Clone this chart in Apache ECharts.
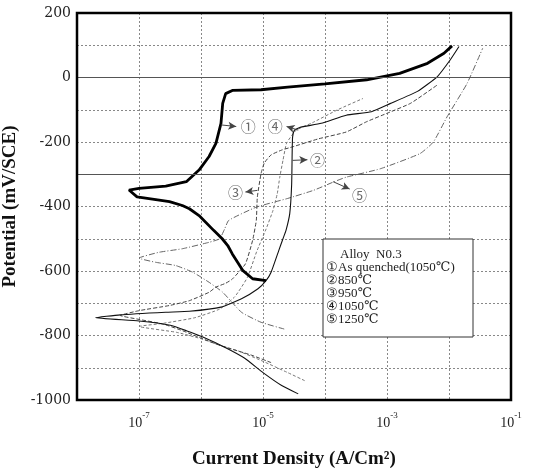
<!DOCTYPE html>
<html>
<head>
<meta charset="utf-8">
<script src="https://cdn.jsdelivr.net/npm/echarts@6/dist/echarts.min.js"></script>
<style>html,body{margin:0;padding:0;background:#fff}#c{width:534px;height:475px}</style>
</head>
<body>
<div id="c"></div>
<script>
// ---- data (current density A/cm², potential mV/SCE) ----
// ① As quenched (1050℃)
const c1I = [1.12e-5,6.8e-6,4.7e-6,3.2e-6,2.7e-6,2.2e-6,1.6e-6,9.3e-7,6.5e-7,5.0e-7,3.1e-7,9.3e-8,6.9e-8,1.0e-7,2.7e-7,5.8e-7,9.3e-7,1.35e-6,1.74e-6,2.1e-6,2.24e-6,2.5e-6,3.2e-6,9.3e-6,2.5e-5,1.0e-4,4.7e-4,1.6e-3,4.5e-3,8.3e-3,1.12e-2];
const c1E = [-630,-624,-598,-547,-521,-500,-474,-428,-407,-397,-385,-370,-349,-344,-337,-323,-287,-245,-204,-142,-80,-50,-40,-38,-30,-20,-7,13,44,75,98];
// ② 850℃
const c2I = [3.7e-5,2.0e-5,1.0e-5,5.0e-6,2.5e-6,1.07e-6,5.8e-7,3.2e-7,1.0e-7,2.0e-8,5.0e-8,2.7e-7,6.5e-7,2.1e-6,4.5e-6,8.3e-6,1.12e-5,1.35e-5,1.8e-5,2.1e-5,2.35e-5,2.7e-5,2.9e-5,2.95e-5,3.0e-5,3.2e-5,3.9e-5,8.7e-5,2.2e-4,5.6e-4,1.12e-3,3.1e-3,6.5e-3,1.05e-2,1.45e-2];
const c2E = [-981,-955,-915,-870,-838,-805,-785,-768,-755,-745,-736,-728,-725,-712,-686,-655,-630,-604,-536,-500,-474,-422,-330,-240,-185,-164,-155,-142,-117,-106,-81,-43,3,55,96];
// ③ 950℃
const c3I = [1.35e-5,6.3e-6,2.1e-6,1.0e-6,5.0e-7,2.5e-7,1.0e-7,5.0e-8,1.0e-7,3.1e-7,6.5e-7,1.35e-6,1.74e-6,2.5e-6,3.2e-6,5.2e-6,6.8e-6,7.8e-6,8.1e-6,9.3e-6,1.05e-5,1.35e-5,2.0e-5,3.0e-5,7.9e-5,2.2e-4,4.7e-4,1.0e-3,2.4e-3,6.5e-3];
const c3E = [-884,-860,-832,-808,-785,-765,-750,-738,-723,-707,-692,-666,-650,-638,-625,-578,-505,-443,-371,-298,-265,-240,-225,-215,-190,-169,-137,-111,-80,-23];
// ④ 1050℃
const c4I = [4.7e-5,2.5e-5,1.0e-5,4.0e-6,2.0e-6,1.0e-6,4.0e-7,1.0e-7,2.5e-7,7.9e-7,2.0e-6,3.5e-6,5.6e-6,7.9e-6,1.12e-5,1.45e-5,1.7e-5,1.86e-5,2.1e-5,2.4e-5,3.4e-5,6.3e-5,1.6e-4,4.1e-4];
const c4E = [-940,-915,-880,-848,-830,-810,-790,-772,-762,-745,-718,-680,-620,-540,-470,-412,-360,-310,-257,-204,-164,-140,-100,-65];
// ⑤ 1250℃
const c5I = [2.2e-5,9.3e-6,4.5e-6,2.24e-6,1.35e-6,7.4e-7,3.9e-7,1.86e-7,1.0e-7,2.1e-7,5.0e-7,1.35e-6,2.0e-6,2.4e-6,2.8e-6,7.8e-6,2.5e-5,6.5e-5,1.41e-4,2.2e-4,7.8e-4,3.4e-3,5.6e-3,9.3e-3,1.95e-2,3.5e-2];
const c5E = [-780,-759,-728,-666,-635,-604,-583,-573,-560,-542,-531,-511,-500,-470,-443,-402,-375,-350,-323,-309,-283,-236,-200,-122,-19,91];

// annotation call-outs (data coordinates)
const annoText   = ['①','②','③','④','⑤'];
const annoLabelI = [5.8e-6, 7.6e-5, 3.6e-6, 1.58e-5, 3.6e-4];
const annoLabelE = [-152, -257, -355, -152, -365];
const arrowFromI = [2.1e-6, 3.0e-5, 8.1e-6, 3.7e-5, 1.35e-4];
const arrowFromE = [-147, -257, -350, -163, -323];
const arrowToI   = [3.7e-6, 5.2e-5, 5.2e-6, 2.4e-5, 2.5e-4];
const arrowToE   = [-152, -255, -355, -152, -346];

const legendLines = ['Alloy  N0.3','①As quenched(1050℃)','②850℃','③950℃','④1050℃','⑤1250℃'];
const yTickStep = 200;
const xMin = 1e-8, xMax = 1e-1, yMin = -1000, yMax = 200;

function zip(a, b) { return a.map((v, k) => [v, b[k]]); }

const serif = 'Liberation Serif, DejaVu Serif, serif';
const chart = echarts.init(document.getElementById('c'), null, {renderer: 'canvas'});

function curve(name, I, E, style, smooth) {
  return {
    name, type: 'line', data: zip(I, E), symbol: 'none', smooth: smooth,
    lineStyle: style, z: 3, silent: true
  };
}

const legendGraphic = [
  {type: 'rect', z: 50, shape: {x: 323, y: 239, width: 150, height: 98},
    style: {fill: '#fff', stroke: '#333', lineWidth: 1}},
  ...legendLines.map((t, k) => ({
    type: 'text', z: 51, x: k === 0 ? 340 : 326, y: 255 + k * 13,
    style: {text: t, fontFamily: serif, fontSize: 13, fill: '#222', textVerticalAlign: 'middle'}
  }))
];

const option = {
  animation: false,
  backgroundColor: '#fff',
  grid: {left: 77, right: 23, top: 13, bottom: 75, show: false, outerBoundsMode: 'none'},
  xAxis: {
    type: 'log', logBase: 10, min: xMin, max: xMax,
    name: 'Current Density (A/Cm²)', nameLocation: 'middle', nameGap: 50,
    nameTextStyle: {fontFamily: serif, fontWeight: 'bold', fontSize: 19, color: '#111'},
    axisLine: {show: false, onZero: false},
    axisTick: {show: false},
    axisLabel: {
      margin: 11, showMinLabel: true, showMaxLabel: true,
      formatter: function (v) {
        const e = Math.round(Math.log10(v));
        if (e % 2 === 0) return '';
        return '{b|10}{s|' + e + '}';
      },
      rich: {
        b: {fontFamily: serif, fontSize: 14, color: '#222', lineHeight: 19, verticalAlign: 'bottom'},
        s: {fontFamily: serif, fontSize: 9, color: '#222', lineHeight: 10, verticalAlign: 'top'}
      }
    },
    splitLine: {show: true, lineStyle: {color: '#888', type: [2, 2], width: 1}}
  },
  yAxis: {
    type: 'value', min: yMin, max: yMax, interval: 100,
    name: 'Potential (mV/SCE)', nameLocation: 'middle', nameGap: 52,
    nameTextStyle: {fontFamily: serif, fontWeight: 'bold', fontSize: 19, color: '#111'},
    axisLine: {show: false, onZero: false},
    axisTick: {show: false},
    axisLabel: {
      margin: 6, fontFamily: 'DejaVu Serif', fontSize: 14, color: '#222',
      formatter: v => (v % yTickStep === 0 ? String(v) : '')
    },
    splitLine: {show: true, lineStyle: {color: '#888', type: [2, 2], width: 1}}
  },
  series: [
    {
      type: 'line', data: [], silent: true, z: 2,
      markLine: {
        silent: true, symbol: 'none', label: {show: false},
        lineStyle: {color: '#555', type: 'solid', width: 1.2},
        data: [{yAxis: 0}, {yAxis: -300}]
      }
    },
    curve('5', c5I, c5E, {color: '#666', width: 1, type: [6, 2, 1, 2]}, 0.15),
    curve('4', c4I, c4E, {color: '#777', width: 1, type: [3, 2]}, 0.15),
    curve('3', c3I, c3E, {color: '#444', width: 1, type: [4, 2]}, 0.15),
    curve('2', c2I, c2E, {color: '#111', width: 1.1, type: 'solid'}, 0.15),
    curve('1', c1I, c1E, {color: '#000', width: 2.8, type: 'solid'}, false),
    {
      type: 'scatter', silent: true, z: 5,
      data: annoText.map((t, k) => [annoLabelI[k], annoLabelE[k], t]),
      symbolSize: 1, itemStyle: {color: 'rgba(0,0,0,0)'},
      label: {show: true, position: 'inside', formatter: p => p.value[2],
        fontFamily: 'Noto Sans CJK JP', fontSize: 15, color: '#444'},
      markLine: {
        silent: true, symbol: ['none', 'arrow'], symbolSize: [6, 8],
        label: {show: false},
        lineStyle: {color: '#444', type: 'solid', width: 1},
        data: annoText.map((t, k) => [
          {coord: [arrowFromI[k], arrowFromE[k]]},
          {coord: [arrowToI[k], arrowToE[k]]}
        ])
      }
    }
  ],
  graphic: legendGraphic
};
chart.setOption(option);

// plot frame from the axis extents
const p0 = chart.convertToPixel({gridIndex: 0}, [xMin, yMax]);
const p1 = chart.convertToPixel({gridIndex: 0}, [xMax, yMin]);
chart.setOption({
  graphic: legendGraphic.concat([{
    type: 'rect', z: 40,
    shape: {x: p0[0], y: p0[1], width: p1[0] - p0[0], height: p1[1] - p0[1]},
    style: {fill: 'none', stroke: '#000', lineWidth: 2.5}
  }])
}, {replaceMerge: ['graphic']});
</script>
</body>
</html>
